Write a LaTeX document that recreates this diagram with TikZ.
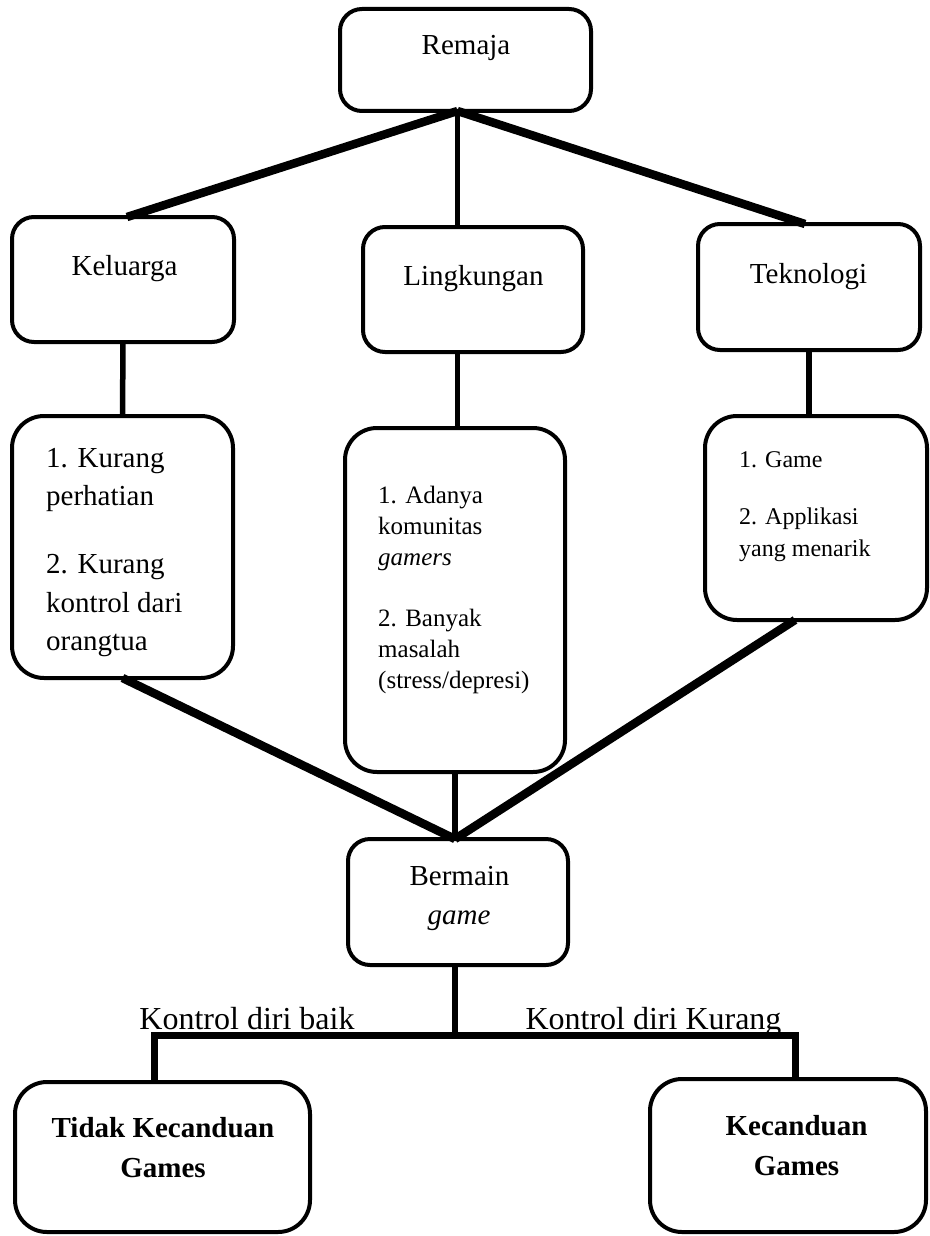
\documentclass[tikz,border=0pt]{standalone}
\usepackage{fontspec}
\setmainfont{Liberation Serif}
\usetikzlibrary{calc}
\begin{document}
\begin{tikzpicture}[x=1pt,y=-1pt,
  box/.style={draw, line width=4pt, rounded corners=22pt, inner sep=0pt, outer sep=0pt},
  bigbox/.style={box, rounded corners=32pt},
  txt/.style={inner sep=0pt, anchor=base, font=\fontsize{29}{35}\selectfont},
  lbl/.style={txt, font=\fontsize{32}{38}\selectfont},
  btxt/.style={txt, font=\fontsize{29}{35}\selectfont\bfseries},
  lst/.style={inner sep=0pt, anchor=base west},
  conn/.style={line width=5.5pt},
  diag/.style={line width=8.5pt},
]
\useasboundingbox (0,0) rectangle (929,1236);

% boxes
\node[box, minimum width=251pt, minimum height=102pt] (remaja) at (465.5,60) {};
\node[box, minimum width=222pt, minimum height=125pt] (kel) at (123,279.5) {};
\node[box, minimum width=220pt, minimum height=125pt] (ling) at (473,289.5) {};
\node[box, minimum width=222pt, minimum height=126pt] (tek) at (809,287) {};
\node[bigbox, minimum width=221pt, minimum height=262pt] (klist) at (122.5,547) {};
\node[bigbox, minimum width=220pt, minimum height=344pt] (llist) at (455,600) {};
\node[bigbox, minimum width=222pt, minimum height=204pt] (tlist) at (816,518) {};
\node[box, minimum width=220pt, minimum height=126pt] (berm) at (458,902) {};
\node[bigbox, minimum width=295pt, minimum height=150pt] (tidak) at (162.5,1157) {};
\node[bigbox, minimum width=276pt, minimum height=153pt] (kec) at (788,1155.5) {};

% texts
\node[txt] (tremaja) at (466,55) {Remaja};
\node[txt] (tkel) at (124.5,275) {Keluarga};
\node[txt] (tling) at (473.5,285) {Lingkungan};
\node[txt] (ttek) at (808.5,283) {Teknologi};
\node[lst, font=\fontsize{29}{38.5}\selectfont] (tklist) at (46,467)
  {\begin{tabular}[t]{@{}l@{}}1. Kurang\\ perhatian\\[29.5pt] 2. Kurang\\ kontrol dari\\ orangtua\end{tabular}};
\node[lst, font=\fontsize{25}{31}\selectfont] (tllist) at (378,503.5)
  {\begin{tabular}[t]{@{}l@{}}1. Adanya\\ komunitas\\ \textit{gamers}\\[29.5pt] 2. Banyak\\ masalah\\ (stress/depresi)\end{tabular}};
\node[lst, font=\fontsize{24}{32}\selectfont] (ttlist) at (739,467)
  {\begin{tabular}[t]{@{}l@{}}1. Game\\[25pt] 2. Applikasi\\ yang menarik\end{tabular}};
\node[txt] (tberm1) at (459.5,885) {Bermain};
\node[txt] (tberm2) at (459,924) {\textit{game}};
\node[lbl] (lbaik) at (247,1029) {Kontrol diri baik};
\node[lbl] (lkurang) at (653.5,1029) {Kontrol diri Kurang};
\node[btxt] (ttidak1) at (163,1137) {Tidak Kecanduan};
\node[btxt] (ttidak2) at (163,1177) {Games};
\node[btxt] (tkec1) at (796.5,1135) {Kecanduan};
\node[btxt] (tkec2) at (796.5,1175) {Games};

% connectors top
\coordinate (apex) at ($(remaja.south)+(-8,0)$);
\draw[diag] (apex) -- ($(kel.north)+(4,0)$);
\draw[conn] (apex) -- (apex |- ling.north);
\draw[diag] (apex) -- ($(tek.north)+(-4,0)$);

\draw[conn] (kel.south) -- (klist.north);
\draw[conn] (ling.south -| apex) -- (llist.north -| apex);
\draw[conn] (tek.south) -- (tek.south |- tlist.north);

% converge
\coordinate (bapex) at (berm.north -| llist.south);
\draw[diag] (klist.south) -- (bapex);
\draw[conn] (llist.south) -- (bapex);
\draw[diag] ($(tlist.south)+(-21,0)$) -- (bapex);

% split
\coordinate (jl) at (154,1035);
\coordinate (jr) at (795,1035);
\draw[conn] (berm.south -| bapex) -- (bapex |- jl);
\draw[line width=7pt, line join=miter] (tidak.north -| jl) -- (jl) -- (jr) -- (kec.north -| jr);
\end{tikzpicture}
\end{document}
